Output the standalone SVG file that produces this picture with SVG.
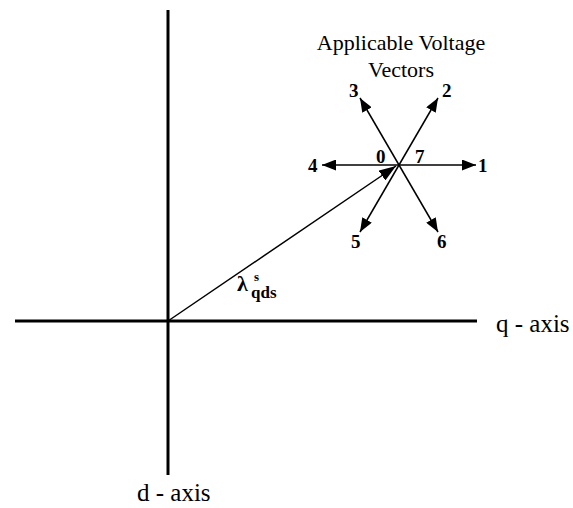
<svg xmlns="http://www.w3.org/2000/svg" width="573" height="508" viewBox="0 0 573 508">
<style>
.axis{stroke:#000;stroke-width:3;fill:none}
.vec{stroke:#000;stroke-width:1.5;fill:none;marker-end:url(#ah)}
.lam{stroke:#000;stroke-width:1.5;fill:none;marker-end:url(#ahb)}
text{font-family:"Liberation Serif","Times New Roman","DejaVu Serif",serif;fill:#000}
.num{font-weight:bold;font-size:19px}
.lbl{font-size:25px}
.ttl{font-size:22px}
</style>
<defs>
<marker id="ah" viewBox="0 0 14 11" refX="14" refY="5.5" markerWidth="14" markerHeight="11" markerUnits="userSpaceOnUse" orient="auto">
<path d="M0,0 L14,5.5 L0,11 Z" fill="#000"/>
</marker>
<marker id="ahb" viewBox="0 0 17 12" refX="17" refY="6" markerWidth="17" markerHeight="12" markerUnits="userSpaceOnUse" orient="auto">
<path d="M0,0 L17,6 L0,12 Z" fill="#000"/>
</marker>
</defs>
<g id="axes">
<line class="axis" x1="168" y1="10" x2="168" y2="475"/>
<line class="axis" x1="15" y1="321" x2="477" y2="321"/>
</g>
<g id="connectors">
<line class="lam" x1="168" y1="321" x2="396" y2="166"/>
<line class="vec" x1="399" y1="165" x2="476" y2="165"/>
<line class="vec" x1="399" y1="165" x2="322" y2="165"/>
<line class="vec" x1="399" y1="165" x2="438" y2="98"/>
<line class="vec" x1="399" y1="165" x2="360" y2="98"/>
<line class="vec" x1="399" y1="165" x2="360" y2="232"/>
<line class="vec" x1="399" y1="165" x2="438" y2="232"/>
</g>
<g id="title">
<text class="ttl" x="401" y="50" text-anchor="middle">Applicable Voltage</text>
<text class="ttl" x="401" y="77" text-anchor="middle">Vectors</text>
</g>
<g id="labels">
<text class="num" x="478" y="172">1</text>
<text class="num" x="442" y="97">2</text>
<text class="num" x="349" y="97">3</text>
<text class="num" x="308" y="172">4</text>
<text class="num" x="351" y="248">5</text>
<text class="num" x="437" y="248">6</text>
<text class="num" x="376" y="163">0</text>
<text class="num" x="415" y="163">7</text>
</g>
<g id="lambda">
<text x="237" y="291" font-size="22" font-weight="bold">λ</text>
<text x="254" y="281" font-size="13" font-weight="bold">s</text>
<text x="251" y="298" font-size="17" font-weight="bold">qds</text>
</g>
<g id="axis-labels">
<text class="lbl" x="496" y="332">q - axis</text>
<text class="lbl" x="137" y="501">d - axis</text>
</g>
</svg>
